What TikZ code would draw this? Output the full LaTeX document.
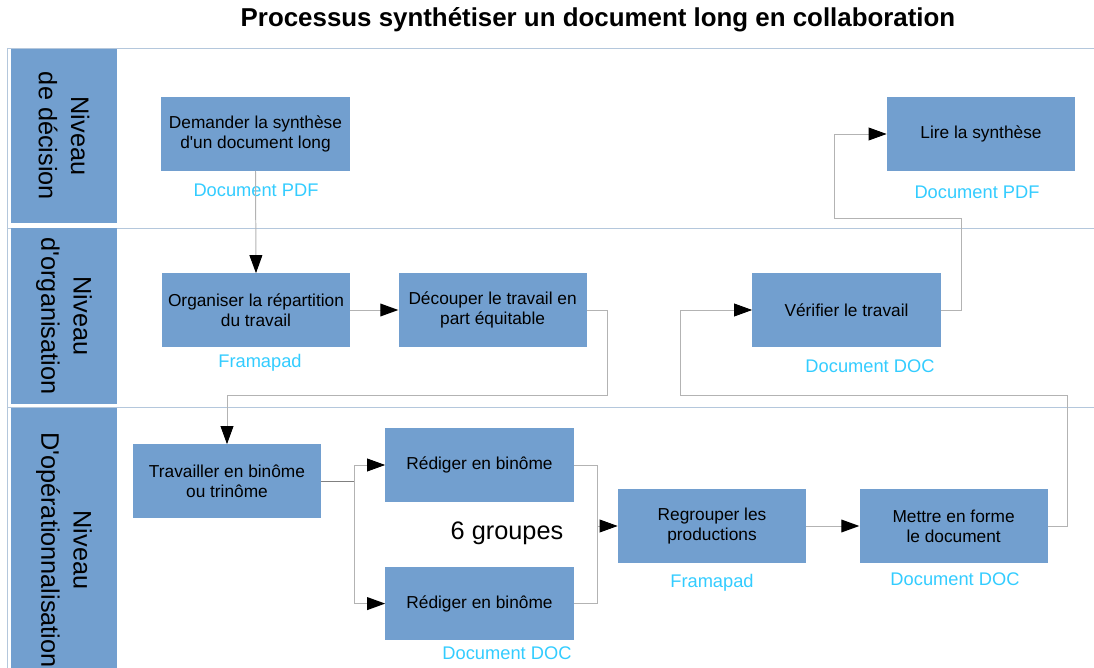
\documentclass[tikz,border=0pt]{standalone}
\usepackage{fontspec}
\setmainfont{Liberation Sans}
\usepackage{tikz}
\usetikzlibrary{arrows.meta,shapes,positioning}
\definecolor{lobox}{RGB}{114,159,207}
\definecolor{lolane}{RGB}{180,199,220}
\definecolor{lolabel}{RGB}{51,204,255}
\definecolor{lowire}{RGB}{179,179,179}
\definecolor{lowiredark}{RGB}{128,128,128}
\tikzstyle{process} = [rectangle, minimum width=4.7cm, minimum height=1.825cm, inner sep=0pt, align=center, fill=lobox, font=\fontsize{12.3pt}{14.2pt}\selectfont]
\tikzstyle{lanehead} = [rectangle, rotate=-90, minimum height=2.65cm, inner sep=0pt, align=center, fill=lobox, font=\fontsize{18pt}{23pt}\selectfont]
\tikzstyle{doclabel} = [text=lolabel, font=\fontsize{13pt}{15pt}\selectfont]
\tikzstyle{laneline} = [draw=lolane, line width=0.7pt]
\tikzstyle{wire} = [draw=lowire, line width=0.7pt]
\tikzstyle{arrow} = [wire, -{Triangle[length=4.5mm, width=3.2mm, black]}]

\begin{document}
\begin{tikzpicture}[x=0.025cm, y=-0.025cm]
\useasboundingbox (0,0) rectangle (1094,668);
\clip (0,0) rectangle (1094,668);

% Title
\node[font=\bfseries\fontsize{18.4pt}{22pt}\selectfont] (title) at (598,20) {Processus synthétiser un document long en collaboration};

% Lanes
\draw[laneline] (7,48) -- (1094,48);
\draw[laneline] (7,228) -- (1094,228);
\draw[laneline] (7,407) -- (1094,407);
\draw[laneline] (7,48) -- (7,668);
\node[lanehead, minimum width=4.35cm] (hdec) at (64,136) {Niveau\\de décision};
\node[lanehead, minimum width=4.375cm] (horg) at (64,316) {Niveau\\d\textquotesingle organisation};
\node[lanehead, minimum width=7.1cm] (hope) at (64,550) {Niveau\\D\textquotesingle opérationnalisation};

% Decision
\node[process] (dem) at (255.5,134) {Demander la synthèse\\d\textquotesingle un document long};
\node[process] (lire) at (981,134) {Lire la synthèse};
\node[doclabel] (demdoc) at (256,190) {Document PDF};
\node[doclabel] (liredoc) at (977,192) {Document PDF};

% Organisation
\node[process] (org) at (256,310) {Organiser la répartition\\du travail};
\node[process, right=1.2cm of org] (dec) {Découper le travail en\\part équitable};
\node[process] (ver) at (846.5,310) {Vérifier le travail};
\node[doclabel] (orgdoc) at (260,363) {Framapad};
\node[doclabel] (verdoc) at (870,366) {Document DOC};

% Operationnalisation
\node[process] (trav) at (227,481) {Travailler en binôme\\ou trinôme};
\node[process] (red1) at (479.5,465) {Rédiger en binôme};
\node[process, below=1.625cm of red1] (red2) {Rédiger en binôme};
\node[process] (reg) at (712,526) {Regrouper les\\productions};
\node[process, right=1.325cm of reg] (met) {Mettre en forme\\le document};
\node[font=\fontsize{18pt}{22pt}\selectfont] (groupes) at (507,533) {6 groupes};
\node[doclabel] (reddoc) at (507,653) {Document DOC};
\node[doclabel] (regdoc) at (712,583) {Framapad};
\node[doclabel] (metdoc) at (955,579) {Document DOC};

% Bends
\coordinate (cut) at (607,395);
\coordinate (fork) at (354,481);
\coordinate (join) at (597,526);
\coordinate (back) at (1067,395);
\coordinate (backup) at (680,310);
\coordinate (done) at (961,218);
\coordinate (doneup) at (834,134);

% Connectors
\draw[arrow] (dem.south) -- (org.north);
\draw[arrow] (org.east) -- (dec.west);
\draw[arrow] (dec.east) -| (cut) -| (trav.north);
\draw[wire, draw=lowiredark] (trav.east) -- (fork);
\draw[arrow] (fork) |- (red1.west);
\draw[arrow] (fork) |- (red2.west);
\draw[wire] (red1.east) -| (join);
\draw[wire] (red2.east) -| (join);
\draw[arrow] (join) -- (reg.west);
\draw[arrow] (reg.east) -- (met.west);
\draw[arrow] (met.east) -| (back) -| (backup) -- (ver.west);
\draw[arrow] (ver.east) -| (done) -| (doneup) -- (lire.west);
\end{tikzpicture}
\end{document}
